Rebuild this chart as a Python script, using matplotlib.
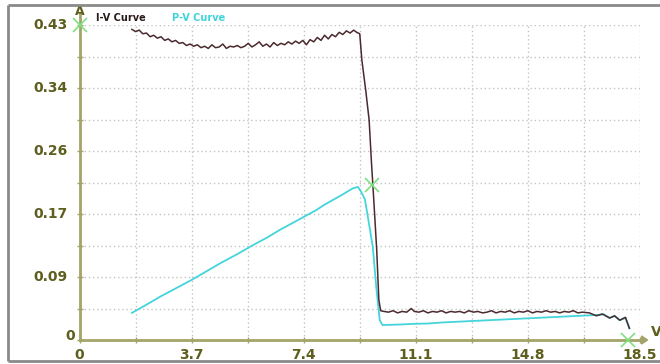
import matplotlib
matplotlib.use("Agg")
import matplotlib.pyplot as plt
from matplotlib.patches import Polygon
from matplotlib.lines import Line2D

# ---- data ----
x_ticks = [0, 1.85, 3.7, 5.55, 7.4, 9.25, 11.1, 12.95, 14.8, 16.65, 18.5]
x_labels = ["0", "", "3.7", "", "7.4", "", "11.1", "", "14.8", "", "18.5"]
y_ticks = [0, 0.043, 0.086, 0.129, 0.172, 0.215, 0.258, 0.301, 0.344, 0.387, 0.43]
y_labels = ["0", "", "0.09", "", "0.17", "", "0.26", "", "0.34", "", "0.43"]

iv_volts = [1.73, 1.85, 1.97, 2.09, 2.21, 2.33, 2.45, 2.57, 2.69, 2.81, 2.93, 3.05,
            3.17, 3.29, 3.41, 3.53, 3.65, 3.77, 3.89, 4.01, 4.13, 4.25, 4.37, 4.49,
            4.61, 4.73, 4.85, 4.97, 5.09, 5.21, 5.33, 5.45, 5.57, 5.69, 5.81, 5.93,
            6.05, 6.17, 6.29, 6.41, 6.53, 6.65, 6.77, 6.89, 7.01, 7.13, 7.25, 7.37,
            7.49, 7.61, 7.73, 7.85, 7.97, 8.09, 8.21, 8.33, 8.45, 8.57, 8.69, 8.81,
            8.93, 9.05, 9.15, 9.25,
            9.32, 9.45, 9.56, 9.64, 9.70, 9.81, 9.88, 9.94,
            10.05, 10.2, 10.35, 10.5, 10.65, 10.8, 10.95, 11.05, 11.2, 11.35, 11.5,
            11.65, 11.8, 11.95, 12.1, 12.25, 12.4, 12.55, 12.7, 12.85, 13.0, 13.15,
            13.3, 13.45, 13.6, 13.75, 13.9, 14.05, 14.2, 14.35, 14.5, 14.65, 14.8,
            14.95, 15.1, 15.25, 15.4, 15.55, 15.7, 15.85, 16.0, 16.15, 16.3, 16.45,
            16.6, 16.83, 17.06, 17.26, 17.5, 17.66, 17.83, 18.02, 18.15]
iv_amps = [0.424, 0.421, 0.423, 0.418, 0.419, 0.414, 0.416, 0.412, 0.414, 0.409, 0.411, 0.407,
           0.409, 0.405, 0.406, 0.402, 0.404, 0.401, 0.403, 0.399, 0.401, 0.398, 0.403, 0.399,
           0.400, 0.404, 0.398, 0.401, 0.400, 0.402, 0.399, 0.401, 0.405, 0.400, 0.403, 0.407,
           0.401, 0.404, 0.400, 0.406, 0.402, 0.405, 0.403, 0.407, 0.404, 0.408, 0.405, 0.409,
           0.403, 0.410, 0.407, 0.413, 0.409, 0.416, 0.411, 0.417, 0.414, 0.420, 0.417, 0.422,
           0.419, 0.423, 0.420, 0.418,
           0.382, 0.340, 0.300, 0.240, 0.200, 0.123, 0.055, 0.040,
           0.039, 0.038, 0.040, 0.037, 0.039, 0.038, 0.043, 0.039, 0.038, 0.040, 0.037,
           0.039, 0.038, 0.040, 0.037, 0.039, 0.038, 0.039, 0.037, 0.040, 0.038, 0.039,
           0.037, 0.038, 0.040, 0.037, 0.039, 0.038, 0.040, 0.037, 0.039, 0.038, 0.040,
           0.037, 0.039, 0.038, 0.040, 0.038, 0.039, 0.037, 0.039, 0.038, 0.040, 0.037,
           0.038, 0.037, 0.033, 0.0355, 0.030, 0.033, 0.027, 0.031, 0.016]

pv_volts = [1.73, 2.2, 2.7, 3.2, 3.7, 4.2, 4.7, 5.2, 5.7, 6.2, 6.6, 7.0, 7.4, 7.8,
            8.1, 8.4, 8.7, 9.02, 9.19, 9.3, 9.42, 9.55, 9.68, 9.8, 9.91, 10.0,
            10.5, 11.0, 11.5, 12.0, 12.5, 13.0, 13.5, 14.0, 14.5, 15.0, 15.5, 16.0,
            16.5, 17.0, 17.3, 17.5, 17.66, 17.83, 18.02, 18.15]
pv_scaled = [0.037, 0.048, 0.060, 0.071, 0.082, 0.094, 0.106, 0.117, 0.129, 0.140,
             0.150, 0.159, 0.168, 0.177, 0.185, 0.192, 0.199, 0.207, 0.209,
             0.202, 0.192, 0.160, 0.127, 0.070, 0.027, 0.0205, 0.021, 0.022, 0.0225,
             0.024, 0.025, 0.026, 0.027, 0.028, 0.029, 0.030, 0.031, 0.032, 0.033,
             0.034, 0.035, 0.030, 0.033, 0.027, 0.030, 0.016]

mark_v = [0.0, 9.65, 18.1]
mark_y = [0.43, 0.211, 0.0]

# ---- styling ----
W, H = 660, 364
fig = plt.figure(figsize=(W / 100, H / 100), dpi=100)
fig.patch.set_facecolor("white")

olive = "#5e5e1e"
axis_col = "#a3a36a"
grid_col = "#c4c4c4"


def fx(px):
    return px / W


def fy(py):
    return (H - py) / H


# outer frame: left, top and bottom edges (the right edge is outside the image)
for xs, ys in [([fx(8), fx(8)], [fy(5), fy(361)]),
               ([fx(8), fx(660)], [fy(5), fy(5)]),
               ([fx(8), fx(660)], [fy(361), fy(361)])]:
    fig.lines.append(Line2D(xs, ys, transform=fig.transFigure,
                            color="#8a8a8a", linewidth=2, zorder=0,
                            solid_capstyle="butt"))

x0, x1 = 79.5, 640
y0, y1 = 340, 25
ax = fig.add_axes([x0 / W, (H - y0) / H, (x1 - x0) / W, (y0 - y1) / H])
ax.set_xlim(0, 18.5)
ax.set_ylim(0, 0.43)
ax.set_facecolor("none")

for s in ["top", "right"]:
    ax.spines[s].set_visible(False)
for s in ["left", "bottom"]:
    ax.spines[s].set_color(axis_col)
    ax.spines[s].set_linewidth(2)
ax.spines["left"].set_bounds(0, 0.445)
ax.spines["bottom"].set_bounds(0, 18.5)

ax.set_xticks(x_ticks)
ax.set_xticklabels([])
ax.set_yticks(y_ticks)
ax.set_yticklabels([])
ax.tick_params(axis="both", direction="inout", length=5, width=1.0, color=axis_col)

# dotted grid
for xv in x_ticks[1:]:
    ax.plot([xv, xv], [0, 0.438], color=grid_col, lw=1, ls=(0, (1, 2)), zorder=1)
for yv in y_ticks[1:]:
    ax.plot([0, 18.5], [yv, yv], color=grid_col, lw=1, ls=(0, (1, 2)), zorder=1)

# tick labels
for xv, lab in zip(x_ticks, x_labels):
    if lab:
        ax.text(xv, -0.020, lab, ha="center", va="center", fontsize=10,
                fontweight="bold", color=olive, clip_on=False)
for yv, lab in zip(y_ticks, y_labels):
    if lab and lab != "0":
        ax.text(-0.4, yv, lab, ha="right", va="center", fontsize=10,
                fontweight="bold", color=olive, clip_on=False)
ax.text(-0.15, 0.005, "0", ha="right", va="center", fontsize=10,
        fontweight="bold", color=olive, clip_on=False)

# axis arrows and unit labels
ax.add_patch(Polygon([[18.55, 0.0055], [18.55, -0.0055], [18.75, 0]], closed=True,
                     color=axis_col, clip_on=False))
ax.text(18.85, 0.011, "V", ha="left", va="center", fontsize=10, fontweight="bold",
        color=olive, clip_on=False)
ax.text(0.0, 0.449, "A", ha="center", va="center", fontsize=9, fontweight="bold",
        color=olive, clip_on=False)
ax.text(0.55, 0.44, "I-V Curve", ha="left", va="center", fontsize=7, fontweight="bold",
        color="#2a1a1a", clip_on=False)
ax.text(3.05, 0.44, "P-V Curve", ha="left", va="center", fontsize=7, fontweight="bold",
        color="#3fd3dc", clip_on=False)

# curves
ax.plot(pv_volts, pv_scaled, color="#45d4dc", lw=1.3, zorder=3)
ax.plot(iv_volts, iv_amps, color="#4a2a2e", lw=1.1, zorder=4)

# markers
ax.plot(mark_v, mark_y, ls="none", marker="x", markersize=10, mew=1.2,
        color="#80e080", zorder=5, clip_on=False)

fig.savefig("out.png", dpi=100)
